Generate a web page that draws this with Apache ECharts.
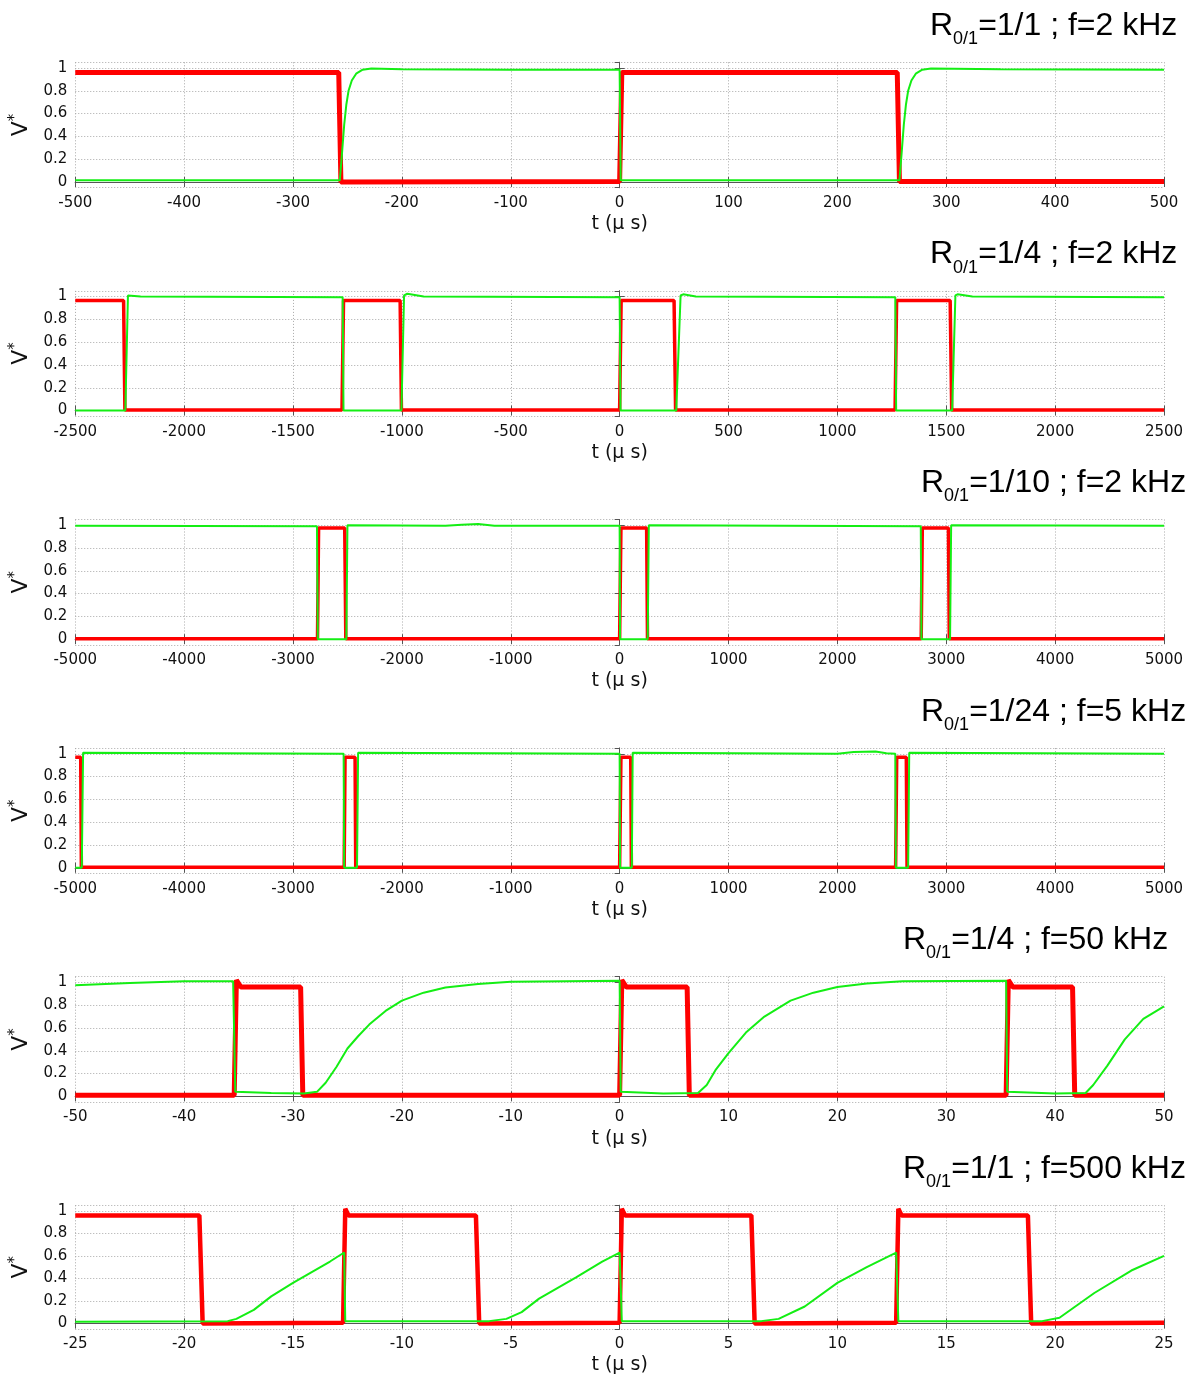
<!DOCTYPE html>
<html><head><meta charset="utf-8">
<script src="https://cdn.jsdelivr.net/npm/echarts@6/dist/echarts.min.js"></script>
<style>html,body{margin:0;padding:0;background:#fff}#c{width:1197px;height:1376px}</style>
</head><body><div id="c"></div>
<script>
// ---- data ----
const titleRatios = ['1/1', '1/4', '1/10', '1/24', '1/4', '1/1'];
const titleFreqs = ['2 kHz', '2 kHz', '2 kHz', '5 kHz', '50 kHz', '500 kHz'];
const xMins = [-500, -2500, -5000, -5000, -50, -25];
const xMaxs = [500, 2500, 5000, 5000, 50, 25];
const xSteps = [100, 500, 1000, 1000, 10, 5];
const xName = 't (\u03bc s)';

const p1Red = [[-500,0.96],[-258,0.96],[-256,0.0],[0,0.005],[2,0.96],[255,0.96],[257,0.005],[500,0.005]];
const p1Green = [[-500,0.015],[-257,0.015],[-255,0.25],[-253,0.5],[-251,0.68],[-249,0.8],[-246,0.89],[-242,0.95],[-236,0.985],[-228,0.995],[-200,0.99],[-100,0.985],[0,0.985],[1,0.015],[257,0.015],[259,0.25],[261,0.5],[263,0.68],[265,0.8],[268,0.89],[272,0.95],[278,0.985],[286,0.995],[350,0.99],[500,0.985]];

const p2Red = [[-2500,0.965],[-2278,0.965],[-2272,0.005],[-1275,0.005],[-1268,0.965],[-1008,0.965],[-1002,0.005],[0,0.005],[7,0.965],[250,0.965],[257,0.005],[1265,0.005],[1272,0.965],[1518,0.965],[1525,0.005],[2500,0.005]];
const p2Green = [[-2500,0.0],[-2270,0.0],[-2258,1.01],[-2250,1.02],[-2200,1.0],[-1272,0.995],[-1268,0.0],[-1002,0.0],[-990,1.01],[-975,1.025],[-900,1.0],[0,0.995],[4,0.0],[260,0.0],[280,1.01],[292,1.02],[350,1.0],[1266,0.995],[1270,0.0],[1527,0.0],[1542,1.01],[1552,1.02],[1620,1.0],[2500,0.995]];

const p3Red = [[-5000,0.005],[-2775,0.005],[-2765,0.975],[-2525,0.975],[-2515,0.005],[0,0.005],[12,0.975],[248,0.975],[256,0.005],[2770,0.005],[2780,0.975],[3020,0.975],[3028,0.005],[5000,0.005]];
const p3Green = [[-5000,0.995],[-2780,0.99],[-2772,0.0],[-2510,0.0],[-2500,1.0],[-1600,0.995],[-1450,1.005],[-1300,1.01],[-1150,0.995],[0,0.995],[4,0.0],[258,0.0],[268,1.0],[2766,0.99],[2772,0.0],[3035,0.0],[3045,1.0],[5000,0.995]];

const p4Red = [[-5000,0.97],[-4950,0.97],[-4944,0.005],[-2530,0.005],[-2522,0.97],[-2430,0.97],[-2424,0.005],[0,0.005],[12,0.97],[102,0.97],[108,0.005],[2535,0.005],[2545,0.97],[2633,0.97],[2640,0.005],[5000,0.005]];
const p4Green = [[-5000,0.0],[-4940,0.0],[-4928,1.01],[-2535,1.0],[-2530,0.0],[-2412,0.0],[-2402,1.01],[0,1.0],[4,0.0],[112,0.0],[120,1.01],[2000,1.0],[2150,1.015],[2350,1.02],[2450,1.005],[2532,1.0],[2537,0.0],[2650,0.0],[2660,1.01],[5000,1.0]];

const p5Red = [[-50,0.01],[-35.4,0.01],[-35.2,1.02],[-34.8,0.96],[-29.3,0.96],[-29.1,0.01],[0,0.01],[0.2,1.02],[0.6,0.96],[6.2,0.96],[6.4,0.01],[35.5,0.01],[35.7,1.02],[36.1,0.96],[41.6,0.96],[41.8,0.01],[50,0.01]];
const p5Green = [[-50,0.975],[-45,0.995],[-40,1.01],[-35.5,1.01],[-35.3,0.04],[-32,0.03],[-29,0.025],[-27.8,0.04],[-27,0.12],[-26,0.26],[-25,0.42],[-24,0.53],[-23,0.63],[-21.5,0.75],[-20,0.84],[-18,0.91],[-16,0.955],[-13,0.985],[-10,1.005],[0,1.015],[0.1,0.04],[4,0.025],[7.2,0.03],[8,0.1],[8.8,0.23],[10,0.38],[11.6,0.56],[13.3,0.7],[15.7,0.84],[17.8,0.91],[20,0.96],[22.7,0.99],[26,1.01],[35.5,1.015],[35.6,0.04],[40,0.025],[42.8,0.03],[43.5,0.1],[44.8,0.27],[46.4,0.5],[48.1,0.68],[50,0.79]];

const p6Red = [[-25,0.96],[-19.3,0.96],[-19.15,0.0],[-12.7,0.005],[-12.6,1.02],[-12.45,0.96],[-6.6,0.96],[-6.45,0.0],[0,0.005],[0.1,1.02],[0.25,0.96],[6.05,0.96],[6.2,0.0],[12.7,0.005],[12.8,1.02],[12.95,0.96],[18.75,0.96],[18.9,0.0],[25,0.005]];
const p6Green = [[-25,0.015],[-18,0.02],[-17.6,0.04],[-16.8,0.12],[-16,0.24],[-15,0.36],[-14.2,0.45],[-13.3,0.55],[-12.65,0.63],[-12.6,0.02],[-6,0.02],[-5.2,0.04],[-4.5,0.1],[-3.7,0.22],[-2,0.41],[-0.8,0.55],[0,0.63],[0.1,0.02],[6.5,0.02],[7.3,0.04],[8.5,0.15],[10,0.36],[11.35,0.5],[12.7,0.63],[12.8,0.02],[19.4,0.02],[20.2,0.05],[21.8,0.27],[23.5,0.47],[25,0.6]];

const redSeries = [p1Red, p2Red, p3Red, p4Red, p5Red, p6Red];
const greenSeries = [p1Green, p2Green, p3Green, p4Green, p5Green, p6Green];

// ---- layout / style ----
const PANEL_H = 228.6, GRID_TOP0 = 62.3, GRID_H = 125.4, GRID_LEFT = 69, GRID_W = 1095;
const titleLefts = [930, 930, 921, 921, 903, 903];
const redWidths = [5, 3.5, 3.5, 3.5, 5, 4.5];
const greenWidths = [2, 2, 2, 2, 2, 2];
const RED = '#ff0000', GREEN = '#14ee14';
const AX = '#555555', TXT = '#111111';
const SANS = 'DejaVu Sans';
const GRIDLINE = { show: true, lineStyle: { color: '#a8a8a8', type: [1, 2], width: 1 } };

const grids = [], xAxes = [], yAxes = [], series = [], titles = [];
for (let i = 0; i < 6; i++) {
  const top = GRID_TOP0 + i * PANEL_H;
  grids.push({ left: GRID_LEFT, top: top, width: GRID_W, height: GRID_H, containLabel: false });
  const tick = { show: true, inside: true, length: 5, lineStyle: { color: AX } };
  const line = { show: true, lineStyle: { color: AX, width: 1 } };
  xAxes.push({
    type: 'value', gridIndex: i, min: xMins[i], max: xMaxs[i], interval: xSteps[i], position: 'bottom',
    axisLine: line, axisTick: tick,
    axisLabel: { color: TXT, fontSize: 15, fontFamily: SANS, margin: 8, formatter: function (v) { return String(v); } },
    splitLine: GRIDLINE,
    name: xName, nameLocation: 'middle', nameGap: 27,
    nameTextStyle: { color: TXT, fontSize: 19, fontFamily: SANS }
  });
  xAxes.push({
    type: 'value', gridIndex: i, min: xMins[i], max: xMaxs[i], interval: xSteps[i], position: 'top',
    axisLine: line, axisTick: tick, axisLabel: { show: false }, splitLine: { show: false }
  });
  yAxes.push({
    type: 'value', gridIndex: i, min: -0.05, max: 1.05, splitNumber: 5, position: 'left',
    axisLine: line, axisTick: tick,
    axisLabel: { color: TXT, fontSize: 15, fontFamily: SANS, margin: 8, showMinLabel: false, showMaxLabel: false },
    splitLine: GRIDLINE,
    name: '{v|V}{s|*}', nameLocation: 'middle', nameGap: 38, nameRotate: 90,
    nameTextStyle: { rich: {
      v: { fontSize: 22, fontFamily: SANS, color: TXT },
      s: { fontSize: 15, fontFamily: SANS, color: TXT, padding: [0, 0, 12, 0] }
    } }
  });
  yAxes.push({
    type: 'value', gridIndex: i, min: -0.05, max: 1.05, splitNumber: 5, position: 'right',
    axisLine: line, axisTick: tick, axisLabel: { show: false }, splitLine: { show: false }
  });
  series.push({
    type: 'line', xAxisIndex: 2 * i, yAxisIndex: 2 * i, data: redSeries[i], showSymbol: false,
    lineStyle: { color: RED, width: redWidths[i] }, itemStyle: { color: RED }, z: 2, silent: true
  });
  series.push({
    type: 'line', xAxisIndex: 2 * i, yAxisIndex: 2 * i, data: greenSeries[i], showSymbol: false,
    lineStyle: { color: GREEN, width: greenWidths[i] }, itemStyle: { color: GREEN }, z: 3, silent: true
  });
  titles.push({
    text: '{r|R}{s|0/1}{r|=' + titleRatios[i] + ' ; f=' + titleFreqs[i] + '}',
    left: titleLefts[i], top: 4 + i * PANEL_H, padding: 0,
    textStyle: { fontWeight: 'normal', rich: {
      r: { fontSize: 32, fontWeight: 'normal', fontFamily: 'Liberation Sans', color: '#000' },
      s: { fontSize: 18, fontWeight: 'normal', fontFamily: 'Liberation Sans', color: '#000', padding: [26, 0, 0, 0] }
    } }
  });
}

const chart = echarts.init(document.getElementById('c'), null, { renderer: 'canvas' });
chart.setOption({
  animation: false, backgroundColor: '#fff',
  title: titles, grid: grids, xAxis: xAxes, yAxis: yAxes, series: series
});
</script>
</body></html>
